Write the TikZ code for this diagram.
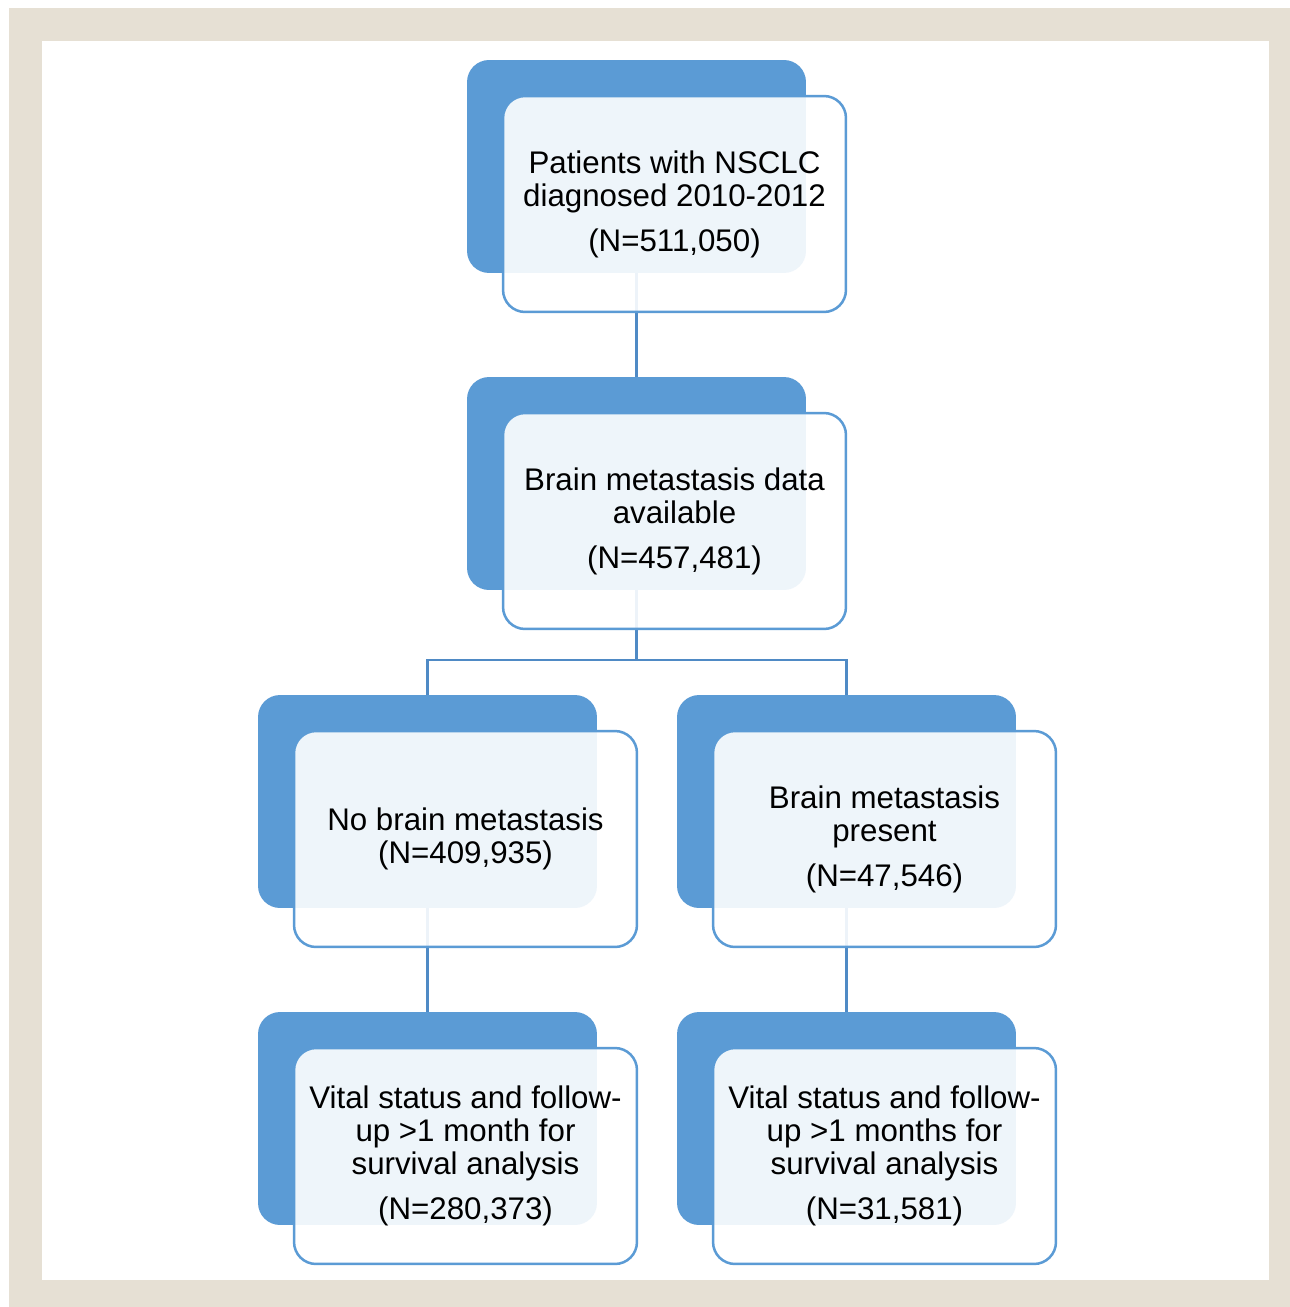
\documentclass[tikz,border=0pt]{standalone}
\usepackage{fontspec}
\setmainfont{Liberation Sans}
\usetikzlibrary{positioning,calc}
\definecolor{boxblue}{HTML}{5B9BD5}
\definecolor{linkblue}{HTML}{4F8AC5}
\definecolor{framebeige}{HTML}{E6E0D4}

\begin{document}
\begin{tikzpicture}[
  x=0.02cm, y=-0.02cm,
  backbox/.style={fill=boxblue, rounded corners=0.44cm, minimum width=6.78cm,
    minimum height=4.26cm, inner sep=0pt},
  frontbox/.style={draw=boxblue, line width=0.05cm, fill=white, fill opacity=0.9,
    text opacity=1, rounded corners=0.44cm, minimum width=6.86cm, minimum height=4.32cm,
    align=center, font=\fontsize{17.8}{18.8}\selectfont},
  link/.style={draw=linkblue, line width=0.05cm},
]
% Frame
\fill[white] (0,0) rectangle (1290,1307);
\fill[framebeige] (9,8) rectangle (1290,1307);
\fill[white] (42,41) rectangle (1269,1280);
\useasboundingbox (0,0) rectangle (1290,1307);

% Back boxes
\node[backbox] (all) at (636.5,166.5) {};
\node[backbox] (avail) at (636.5,483.5) {};
\node[backbox] (nobm) at (427.5,801.5) {};
\node[backbox] (bm) at (846.5,801.5) {};
\node[backbox] (nobmfu) at (427.5,1118.5) {};
\node[backbox] (bmfu) at (846.5,1118.5) {};

% Connectors
\coordinate (split) at (636.5,660);
\draw[link] (all.south) -- (avail.north);
\draw[link] (avail.south) -- (split);
\draw[link] (split) -| (nobm.north);
\draw[link] (split) -| (bm.north);
\draw[link] (nobm.south) -- (nobmfu.north);
\draw[link] (bm.south) -- (bmfu.north);

% Front boxes
\node[frontbox] (allt) at ([shift={(38,37.5)}]all) {Patients with NSCLC\\diagnosed 2010-2012\\[0.24cm](N=511,050)};
\node[frontbox] (availt) at ([shift={(38,37.5)}]avail) {Brain metastasis data\\available\\[0.24cm](N=457,481)};
\node[frontbox] (nobmt) at ([shift={(38,37.5)}]nobm) {No brain metastasis\\(N=409,935)};
\node[frontbox] (bmt) at ([shift={(38,37.5)}]bm) {Brain metastasis\\present\\[0.24cm](N=47,546)};
\node[frontbox] (nobmfut) at ([shift={(38,37.5)}]nobmfu) {Vital status and follow-\\up >1 month for\\survival analysis\\[0.24cm](N=280,373)};
\node[frontbox] (bmfut) at ([shift={(38,37.5)}]bmfu) {Vital status and follow-\\up >1 months for\\survival analysis\\[0.24cm](N=31,581)};
\end{tikzpicture}
\end{document}
